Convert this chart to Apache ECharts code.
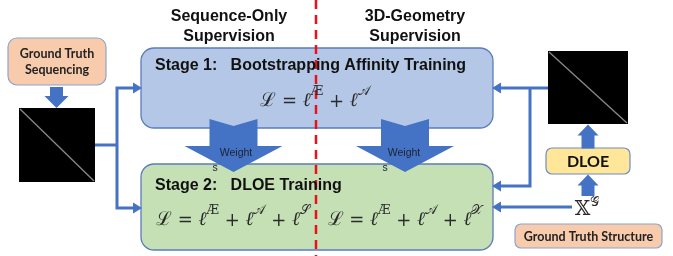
<!DOCTYPE html>
<html><head><meta charset="utf-8">
<script src="https://cdn.jsdelivr.net/npm/echarts@6/dist/echarts.min.js"></script>
<style>html,body{margin:0;padding:0;background:#fff}#c{width:673px;height:256px}</style>
</head><body><div id="c"></div>
<script>
// ---- content ----
const headers = ['Sequence-Only\nSupervision', '3D-Geometry\nSupervision'];
const stageTitles = ['Stage 1:   Bootstrapping Affinity Training', 'Stage 2:   DLOE Training'];
const weightLabel = ['Weight', 's'];
const inputLabels = ['Ground Truth\nSequencing', 'Ground Truth Structure', 'DLOE'];
const stage1Terms = ['Æ', '𝒜'];
const stage2SeqTerms = ['Æ', '𝒜', '𝒮'];
const stage2GeoTerms = ['Æ', '𝒜', '𝒳'];
const structureSymbol = ['𝕏', '𝒢'];

// ---- styles ----
const BLUE = '#4472c4', EDGE = '#5b7cbc';
const SANS = '"Liberation Sans", Arial, sans-serif';
const CAL = 'Lato, "Open Sans", sans-serif';
const MATH = '"DejaVu Serif", serif';
const INK = '#2a2a2a';

function formula(terms) {
  let s = '{L|ℒ}{o| = }{l|ℓ}';
  terms.forEach((t, i) => { s += (i ? '{o| + }{l|ℓ}' : '') + '{s|' + t + '}'; });
  return s;
}
const mathRich = {
  L: { font: '19px ' + MATH, fill: INK, lineHeight: 26, verticalAlign: 'bottom' },
  o: { font: '18px ' + MATH, fill: INK, lineHeight: 26, verticalAlign: 'bottom' },
  l: { font: 'italic 19px ' + MATH, fill: INK, lineHeight: 26, verticalAlign: 'bottom' },
  s: { font: '12.5px ' + MATH, fill: INK, lineHeight: 14, verticalAlign: 'top' }
};
function mathText(x, y, terms) {
  return { type: 'text', x, y, z: 20, style: { text: formula(terms), rich: mathRich, align: 'center', verticalAlign: 'middle' } };
}
function rrect(x, y, w, h, r, fill, stroke, lw) {
  return { type: 'rect', shape: { x, y, width: w, height: h, r }, style: { fill, stroke, lineWidth: lw || 1.2 }, z: 5 };
}
function text(x, y, t, font, fill, align, z) {
  return { type: 'text', x, y, z: z || 20, style: { text: t, font, fill: fill || '#111', align: align || 'center', verticalAlign: 'middle', lineHeight: 20 } };
}
function poly(points, fill, z) { return { type: 'polygon', shape: { points }, style: { fill }, z: z || 10 }; }
function pline(points) { return { type: 'polyline', shape: { points }, style: { stroke: BLUE, lineWidth: 3, fill: null }, z: 8 }; }
function headLeft(x, y) { return poly([[x, y], [x + 9, y - 5.5], [x + 9, y + 5.5]], BLUE, 9); }
function headRight(x, y) { return poly([[x, y], [x - 9, y - 5.5], [x - 9, y + 5.5]], BLUE, 9); }
function bigDown(cx, top, tip) {
  return poly([[cx - 24, top], [cx, top + 7], [cx + 24, top], [cx + 24, 146], [cx + 49, 146], [cx, tip], [cx - 49, 146], [cx - 24, 146]], BLUE, 12);
}
function smallUp(cx, tip, wing, bottom) {
  return poly([[cx, tip], [cx + 10.5, wing], [cx + 6.5, wing], [cx + 6.5, bottom], [cx - 6.5, bottom], [cx - 6.5, wing], [cx - 10.5, wing]], BLUE);
}
function blackSquare(x, y, w, h) {
  return [
    { type: 'rect', shape: { x, y, width: w, height: h }, style: { fill: '#000' }, z: 6 },
    { type: 'line', shape: { x1: x + 1, y1: y + 1, x2: x + w - 1, y2: y + h - 1 }, style: { stroke: '#8a8a8a', lineWidth: 1.3 }, z: 7 }
  ];
}

const g = [];
// headers
g.push(text(229, 27, headers[0], 'bold 16px ' + SANS, '#111'));
g.push(text(415, 27, headers[1], 'bold 16px ' + SANS, '#111'));
// stage boxes
g.push(rrect(141, 48, 352, 80, 13, '#b4c7e7', EDGE, 1.3));
g.push(rrect(141, 164, 352, 86, 13, '#c5e0b4', EDGE, 1.3));
g.push(text(155, 66, stageTitles[0], 'bold 16px ' + SANS, '#111', 'left'));
g.push(text(155, 186, stageTitles[1], 'bold 16px ' + SANS, '#111', 'left'));
g.push(mathText(315, 98, stage1Terms));
g.push(mathText(233, 217, stage2SeqTerms));
g.push(mathText(405, 217, stage2GeoTerms));
// red dashed divider
g.push({ type: 'line', shape: { x1: 316, y1: 0, x2: 316, y2: 256 }, style: { stroke: '#e8121a', lineWidth: 2.5, lineDash: [9, 6] }, z: 15 });
// big weight arrows
g.push(bigDown(233.5, 119, 172));
g.push(bigDown(405, 119, 172));
g.push(text(236, 153, weightLabel[0], '10.5px ' + SANS, '#1b2233'));
g.push(text(215, 168, weightLabel[1], '10.5px ' + SANS, '#1b2233'));
g.push(text(404, 153, weightLabel[0], '10.5px ' + SANS, '#1b2233'));
g.push(text(385, 168, weightLabel[1], '10.5px ' + SANS, '#1b2233'));
// left side
g.push(rrect(8, 38, 98, 47, 9, '#f8cbad', '#8ea3cc', 1.2));
g.push({ type: 'text', x: 57, y: 62, z: 20, style: { text: inputLabels[0], font: 'bold 12.5px ' + CAL, fill: '#222', align: 'center', verticalAlign: 'middle', lineHeight: 16 } });
g.push(poly([[50, 87], [63, 87], [63, 96], [68.5, 96], [56.5, 108], [44.5, 96], [50, 96]], BLUE));
blackSquare(19, 108, 76, 74).forEach(e => g.push(e));
g.push(pline([[95, 145], [117, 145]]));
g.push(pline([[133, 88], [117, 88], [117, 208], [133, 208]]));
g.push(headRight(142, 88));
g.push(headRight(142, 208));
// right side
blackSquare(548, 51, 80, 73).forEach(e => g.push(e));
g.push(pline([[548, 88], [501, 88]]));
g.push(pline([[530, 88], [530, 186], [501, 186]]));
g.push(pline([[572, 207], [501, 207]]));
g.push(headLeft(492, 88));
g.push(headLeft(492, 186));
g.push(headLeft(492, 207));
g.push(smallUp(588, 124.5, 135.5, 148.5));
g.push(rrect(546, 148, 84, 26, 6, '#ffe699', '#6f8cc4', 1.2));
g.push(text(588, 161.5, inputLabels[2], 'bold 16px ' + CAL, '#111'));
g.push(smallUp(588, 174.5, 185.5, 196));
g.push({ type: 'text', x: 587, y: 208, z: 20, style: { text: '{b|' + structureSymbol[0] + '}{s|' + structureSymbol[1] + '}', align: 'center', verticalAlign: 'middle',
  rich: { b: { font: '20px ' + MATH, fill: INK, lineHeight: 24, verticalAlign: 'bottom' }, s: { font: '12.5px ' + MATH, fill: INK, lineHeight: 14, verticalAlign: 'top' } } } });
g.push(rrect(515, 224, 147, 24, 6, '#f8cbad', '#8ea3cc', 1.2));
g.push(text(588.5, 236.5, inputLabels[1], 'bold 12.5px ' + CAL, '#222'));

const chart = echarts.init(document.getElementById('c'), null, { renderer: 'canvas' });
chart.setOption({ animation: false, backgroundColor: '#fff', graphic: { elements: g } });
</script></body></html>
